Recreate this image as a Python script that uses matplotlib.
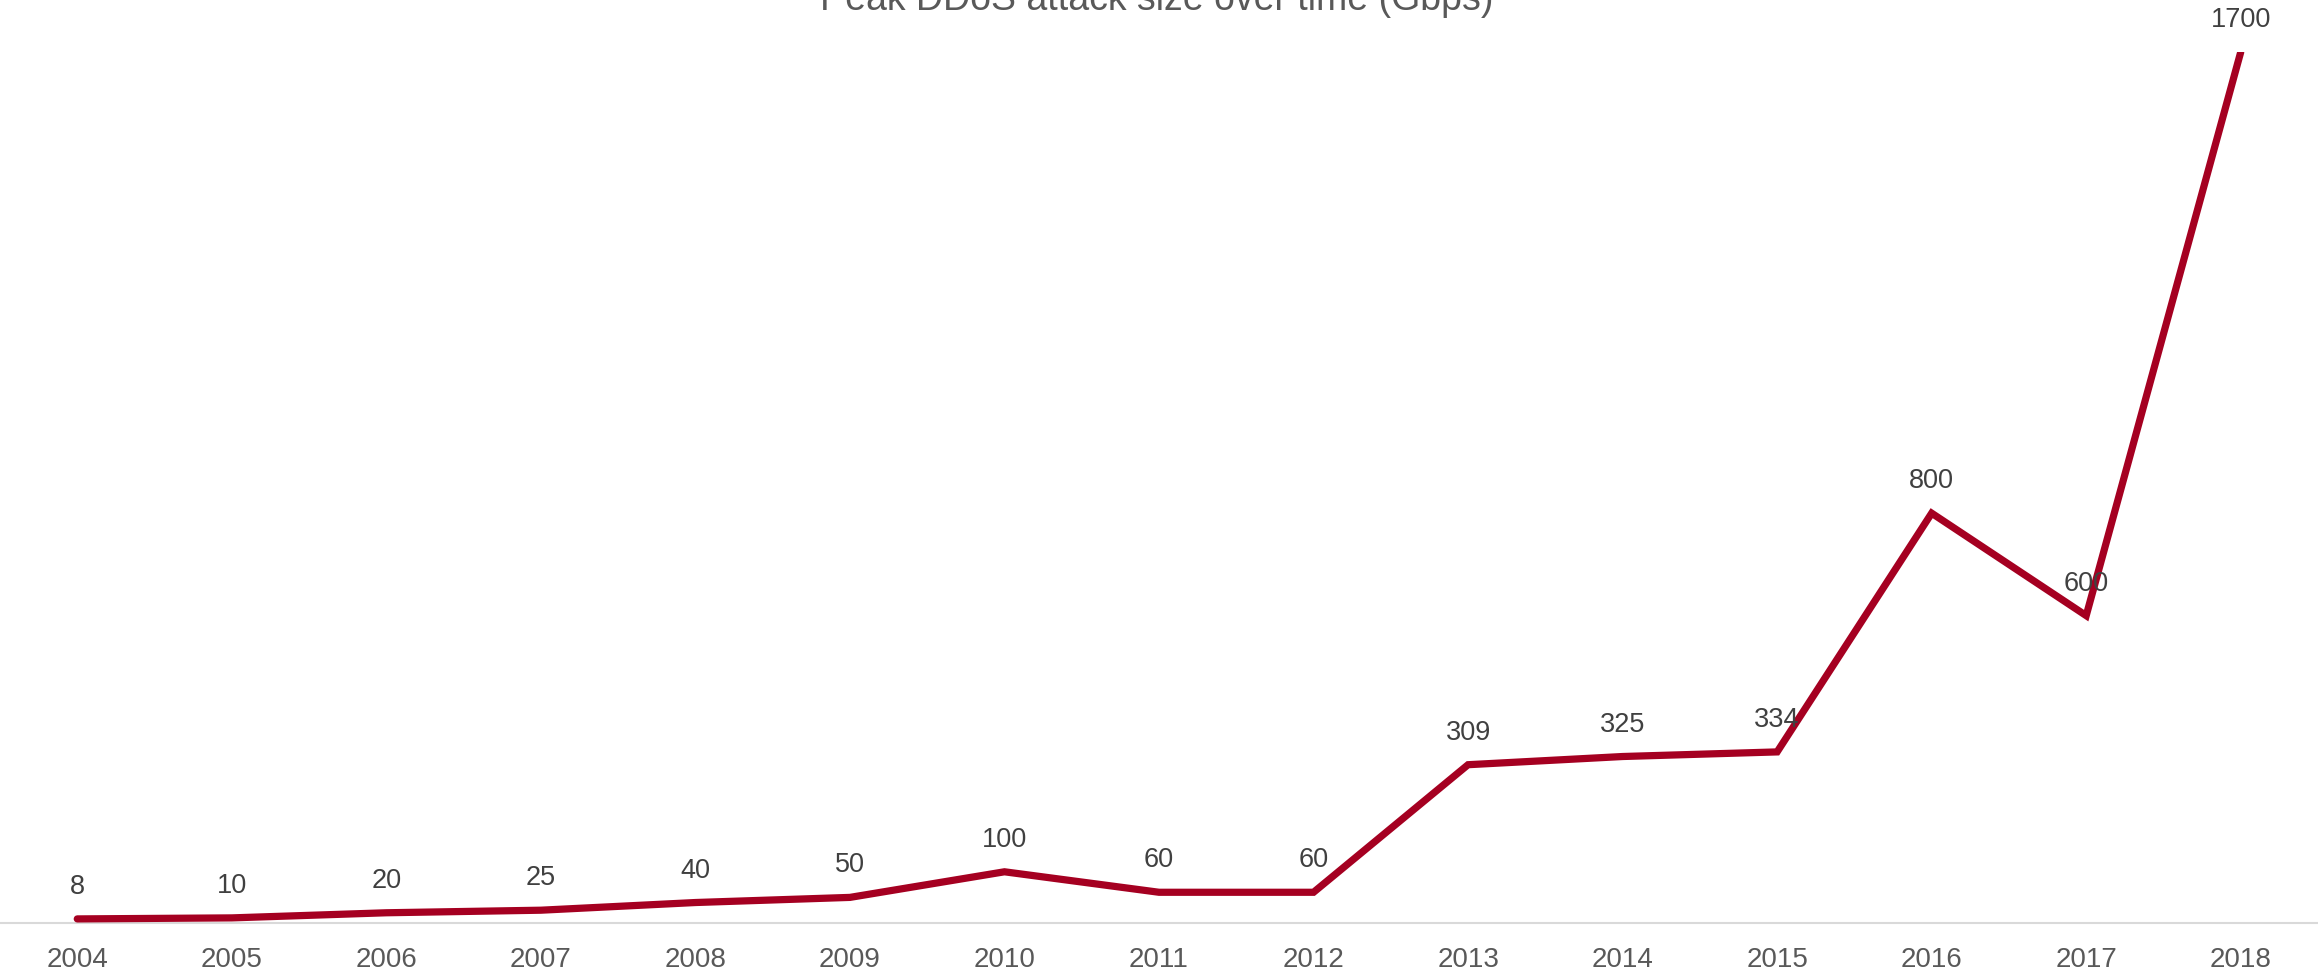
import numpy as np
import matplotlib.pyplot as plt

plt.rcParams['font.family'] = ['Liberation Sans', 'DejaVu Sans']

# Datos
anios = ['2004', '2005', '2006', '2007', '2008', '2009', '2010', '2011',
         '2012', '2013', '2014', '2015', '2016', '2017', '2018']
gbps = [8, 10, 20, 25, 40, 50, 100, 60, 60, 309, 325, 334, 800, 600, 1700]
titulo = 'Peak DDoS attack size over time (Gbps)'

fig = plt.figure(figsize=(23.18, 9.72), dpi=100)
ax = fig.add_axes([0.0, 0.0504, 1.0, 0.896])

x = np.arange(len(anios))
ax.plot(x, gbps, color='#A50021', linewidth=5.2, solid_capstyle='round',
        solid_joinstyle='miter')

# Etiquetas de datos
for xi, v in zip(x, gbps):
    ax.annotate(str(v), (xi, v), xytext=(0, 23), textcoords='offset points',
                ha='center', va='center', fontsize=19.5, color='#404040',
                annotation_clip=False)

ax.set_xlim(-0.5, len(anios) - 0.5)
ax.set_ylim(0, 1700)
ax.set_xticks(x)
ax.set_xticklabels(anios, fontsize=20, color='#595959')
ax.set_yticks([])
ax.tick_params(axis='x', length=0, pad=17)

for s in ['top', 'right', 'left']:
    ax.spines[s].set_visible(False)
ax.spines['bottom'].set_color('#D9D9D9')
ax.spines['bottom'].set_linewidth(1.5)
ax.spines['bottom'].set_zorder(0)

fig.text(0.499, 1 - 10 / 972, titulo, ha='center', va='baseline',
         fontsize=27, color='#595959')

fig.savefig('out.png', dpi=100)
